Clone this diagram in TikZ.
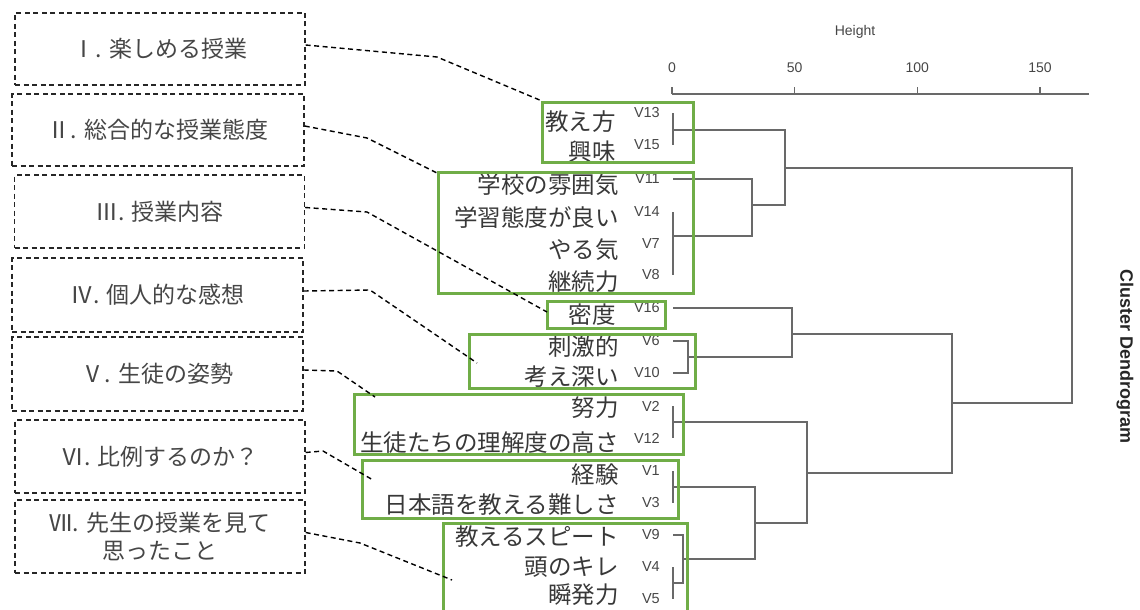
\documentclass[tikz,border=0pt]{standalone}
\usepackage{fontspec}
\setmainfont{Liberation Sans}
\newfontfamily\jpfont{Noto Sans CJK JP}
\usetikzlibrary{calc}

\definecolor{grpgreen}{RGB}{112,173,71}
\definecolor{treegray}{RGB}{105,105,105}
\definecolor{txtgray}{RGB}{70,70,70}

\tikzset{
    catbox/.style={draw=black!85, line width=1.4pt, dash pattern=on 5pt off 3.5pt,
        minimum width=290pt, minimum height=72pt, inner sep=0pt, align=center,
        text=txtgray, font=\jpfont\fontsize{23}{28}\selectfont},
    grpbox/.style={draw=grpgreen, line width=3pt},
    tree/.style={draw=treegray, line width=1.5pt},
    leaf/.style={anchor=east, inner sep=0pt, text=txtgray, font=\fontsize{14.5}{15}\selectfont},
    item/.style={anchor=east, inner sep=0pt, text=black!78, font=\jpfont\fontsize{23.5}{24}\selectfont},
    tick/.style={inner sep=0pt, text=txtgray, font=\fontsize{14}{14}\selectfont},
    link/.style={draw=black, line width=1.4pt, dash pattern=on 5pt off 3.5pt},
}

\begin{document}
\begin{tikzpicture}[x=1pt,y=-1pt]
    \useasboundingbox (0,0) rectangle (1140,610);

    % category boxes
    \node[catbox] (c1) at (160,49) {Ⅰ. 楽しめる授業};
    \node[catbox, minimum width=292pt] (c2) at (158,130) {Ⅱ. 総合的な授業態度};
    \node[catbox, minimum height=73pt] (c3) at (159.5,211.5) {Ⅲ. 授業内容};
    \node[catbox, minimum width=291pt, minimum height=74pt] (c4) at (157.5,295) {Ⅳ. 個人的な感想};
    \node[catbox, minimum width=291pt, minimum height=74pt] (c5) at (157.5,374) {Ⅴ. 生徒の姿勢};
    \node[catbox, minimum height=73pt] (c6) at (160,456.5) {Ⅵ. 比例するのか？};
    \node[catbox, minimum height=73pt] (c7) at (160,536.5) {Ⅶ. 先生の授業を見て\\思ったこと};

    % leaves
    \coordinate (v13) at (673,113);
    \coordinate (v15) at (673,145);
    \coordinate (v11) at (673,179);
    \coordinate (v14) at (673,212);
    \coordinate (v7) at (673,244);
    \coordinate (v8) at (673,275);
    \coordinate (v16) at (673,308);
    \coordinate (v6) at (673,341);
    \coordinate (v10) at (673,373);
    \coordinate (v2) at (673,406);
    \coordinate (v12) at (673,438);
    \coordinate (v1) at (673,471);
    \coordinate (v3) at (673,503);
    \coordinate (v9) at (673,535);
    \coordinate (v4) at (673,567);
    \coordinate (v5) at (673,599);

    \foreach \v in {13,15,11,14,7,8,16,6,10,2,12,1,3,9,4,5}
        \node[leaf] (l\v) at ($(v\v)+(-13,0)$) {V\v};

    % item labels
    \node[item] (i13) at (616,122) {教え方};
    \node[item] (i15) at (616,152) {興味};
    \node[item] (i11) at (619,185) {学校の雰囲気};
    \node[item] (i14) at (619,218) {学習態度が良い};
    \node[item] (i7) at (619,250) {やる気};
    \node[item] (i8) at (619,282) {継続力};
    \node[item] (i16) at (616,315) {密度};
    \node[item] (i6) at (619,347) {刺激的};
    \node[item] (i10) at (619,377) {考え深い};
    \node[item] (i2) at (619,408) {努力};
    \node[item] (i12) at (619,443) {生徒たちの理解度の高さ};
    \node[item] (i1) at (619,475) {経験};
    \node[item] (i3) at (619,505) {日本語を教える難しさ};
    \node[item] (i9) at (619,537) {教えるスピート};
    \node[item] (i4) at (619,567) {頭のキレ};
    \node[item] (i5) at (619,595) {瞬発力};

    % height axis
    \draw[tree] (672,94) -- (1089,94);
    \foreach \h in {0,50,100,150} {
        \draw[tree] (672+2.453*\h,94) -- (672+2.453*\h,87);
        \node[tick] (t\h) at (672+2.453*\h,68) {\h};
    }
    \node[tick] (height) at (855,32) {Height};
    \node[rotate=-90, inner sep=0pt, font=\bfseries\fontsize{18}{18}\selectfont, text=black!85]
        (title) at (1125,357) {Cluster Dendrogram};

    % dendrogram
    \draw[tree] (v13) -- (v15);
    \draw[tree] (673,130) -| (785,205) -- (752,205);
    \draw[tree] (v11) -| (752,236) -- (673,236);
    \draw[tree] (v14) -- (v8);
    \draw[tree] (785,168) -| (1072,403) -- (952,403);
    \draw[tree] (v16) -| (792,357) -- (688,357);
    \draw[tree] (v6) -| (688,373) -- (v10);
    \draw[tree] (792,334) -| (952,473) -- (807,473);
    \draw[tree] (v2) -- (v12);
    \draw[tree] (673,422) -| (807,523) -- (755,523);
    \draw[tree] (v1) -- (v3);
    \draw[tree] (673,487) -| (755,559) -- (683,559);
    \draw[tree] (v9) -| (683,583) -- (673,583);
    \draw[tree] (v4) -- (v5);

    % groups
    \draw[grpbox] (542,102) rectangle (693,162);
    \draw[grpbox] (438,172) rectangle (693,293);
    \draw[grpbox] (547,301) rectangle (665,328);
    \draw[grpbox] (469,334) rectangle (695,388);
    \draw[grpbox] (354,394) rectangle (683,454);
    \draw[grpbox] (362,460) rectangle (678,518);
    \draw[grpbox] (443,523) rectangle (687,616);

    % links from categories to groups
    \coordinate (b1) at (437,57);   \coordinate (e1) at (542,101);
    \coordinate (b2) at (367,138);  \coordinate (e2) at (437,173);
    \coordinate (b3) at (367,212);  \coordinate (e3) at (547,312);
    \coordinate (b4) at (370,290);  \coordinate (e4) at (477,363);
    \coordinate (b5) at (337,371);  \coordinate (e5) at (375,397);
    \coordinate (b6) at (323,451);  \coordinate (e6) at (373,480);
    \coordinate (b7) at (360,543);  \coordinate (e7) at (452,580);

    \foreach \k in {1,...,7}
        \draw[link] ($(c\k.east)+(0,-4)$) -- (b\k) -- (e\k);
\end{tikzpicture}
\end{document}
